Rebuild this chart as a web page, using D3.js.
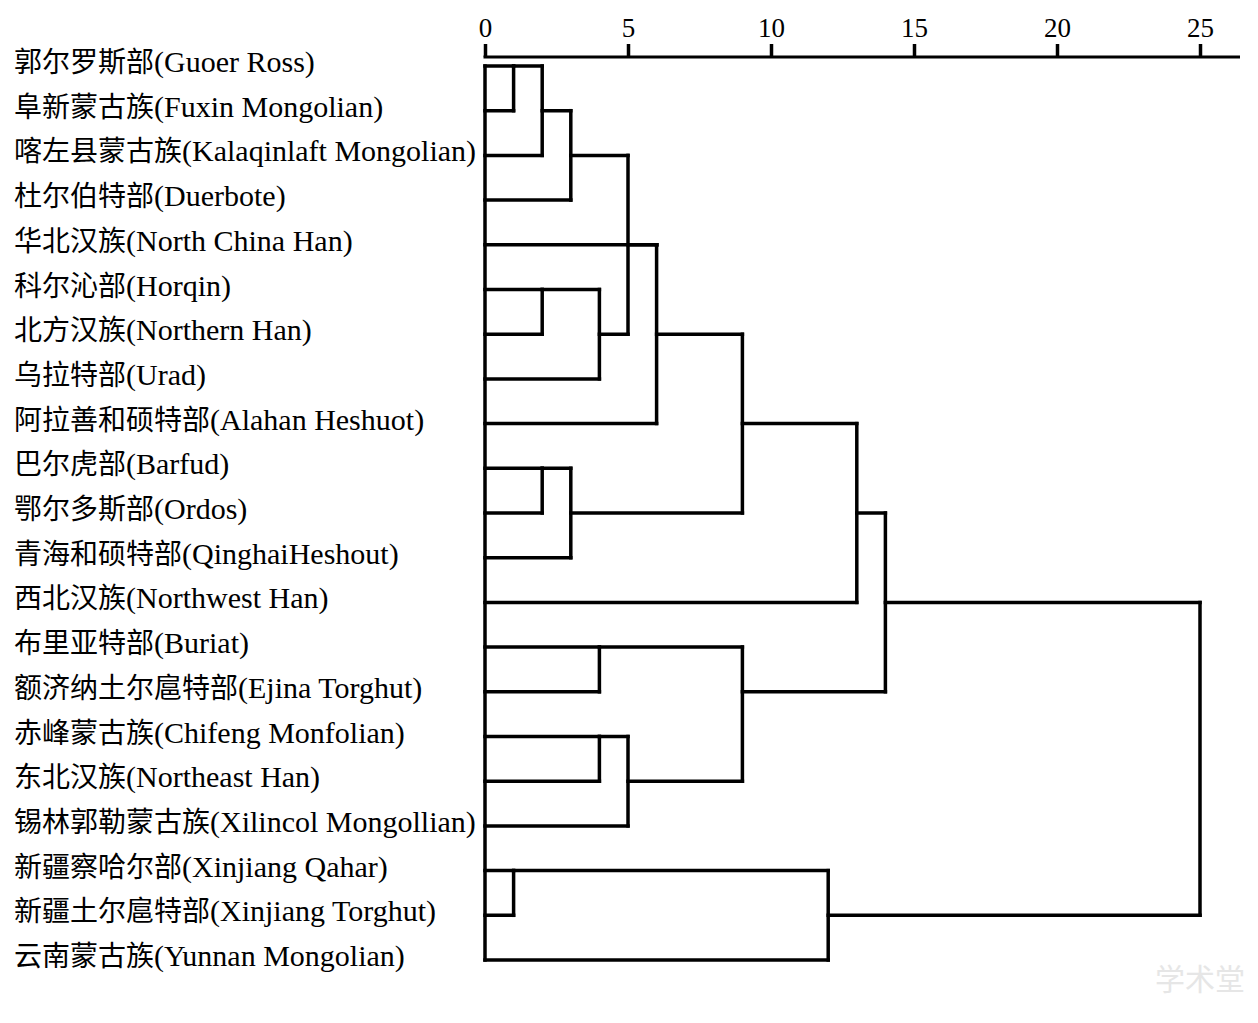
<!DOCTYPE html>
<html lang="zh">
<head>
<meta charset="utf-8">
<title>Dendrogram</title>
<script src="https://cdn.jsdelivr.net/npm/d3@7"></script>
<style>
  body { margin: 0; background: #fff; }
  .axis text { font-family: "Liberation Serif", "Times New Roman", serif; font-size: 27px; fill: #000; }
  .axis line { stroke: #000; stroke-width: 3.5px; }
  .link { stroke: #000; stroke-width: 3.5px; fill: none; stroke-linecap: square; }
  .lab { font-family: "Liberation Serif", serif; fill: #000; }
  .cn { font-family: "Noto Sans CJK SC", sans-serif; font-size: 28px; }
  .en { font-size: 30px; }
</style>
</head>
<body>
<script>
// leaf labels, top to bottom
var namesCn = ["郭尔罗斯部", "阜新蒙古族", "喀左县蒙古族", "杜尔伯特部", "华北汉族", "科尔沁部", "北方汉族",
  "乌拉特部", "阿拉善和硕特部", "巴尔虎部", "鄂尔多斯部", "青海和硕特部", "西北汉族", "布里亚特部",
  "额济纳土尔扈特部", "赤峰蒙古族", "东北汉族", "锡林郭勒蒙古族", "新疆察哈尔部", "新疆土尔扈特部", "云南蒙古族"];
var namesEn = ["(Guoer Ross)", "(Fuxin Mongolian)", "(Kalaqinlaft Mongolian)", "(Duerbote)", "(North China Han)",
  "(Horqin)", "(Northern Han)", "(Urad)", "(Alahan Heshuot)", "(Barfud)", "(Ordos)", "(QinghaiHeshout)",
  "(Northwest Han)", "(Buriat)", "(Ejina Torghut)", "(Chifeng Monfolian)", "(Northeast Han)",
  "(Xilincol Mongollian)", "(Xinjiang Qahar)", "(Xinjiang Torghut)", "(Yunnan Mongolian)"];

// merges: [child a, child b, rescaled distance]; ids 0-20 are leaves, 21+ are earlier merges
var merges = [
  [0, 1, 1],      // 21
  [21, 2, 2],     // 22
  [22, 3, 3],     // 23
  [5, 6, 2],      // 24
  [24, 7, 4],     // 25
  [23, 25, 5],    // 26
  [26, 4, 6],     // 27
  [27, 8, 6],     // 28
  [9, 10, 2],     // 29
  [29, 11, 3],    // 30
  [28, 30, 9],    // 31
  [31, 12, 13],   // 32
  [13, 14, 4],    // 33
  [15, 16, 4],    // 34
  [34, 17, 5],    // 35
  [33, 35, 9],    // 36
  [32, 36, 14],   // 37
  [18, 19, 1],    // 38
  [38, 20, 12],   // 39
  [37, 39, 25]    // 40
];
var tickVals = [0, 5, 10, 15, 20, 25];

var w = 1258, h = 1023;

var svg = d3.select("body").append("svg")
  .attr("width", w)
  .attr("height", h);

var x = d3.scaleLinear().domain([0, 25]).range([485, 1200]);
var y = d3.scalePoint().domain(d3.range(namesCn.length)).range([66, 960]);

// axis on top
var axis = d3.axisTop(x).tickValues(tickVals).tickSize(13).tickSizeOuter(0).tickPadding(7);
var gAxis = svg.append("g").attr("class", "axis")
  .attr("transform", "translate(0,57)")
  .call(axis);
gAxis.select(".domain").remove();
gAxis.append("line")
  .attr("x1", x(0) - 1.5).attr("x2", x.range()[1] + 40)
  .attr("y1", 0).attr("y2", 0)
  .style("stroke-width", "3px");

// node row and height for every id
var row = d3.range(namesCn.length), hgt = namesCn.map(function() { return 0; });
var segs = [];
merges.forEach(function(m) {
  var a = m[0], b = m[1], d = m[2];
  var ra = row[a], rb = row[b];
  segs.push([hgt[a], d, ra, ra]);
  segs.push([hgt[b], d, rb, rb]);
  segs.push([d, d, Math.min(ra, rb), Math.max(ra, rb)]);
  row.push(Math.floor((ra + rb) / 2));
  hgt.push(d);
});
// left baseline
segs.push([0, 0, 0, namesCn.length - 1]);

svg.selectAll(".link").data(segs).enter().append("line")
  .attr("class", "link")
  .attr("x1", function(s) { return x(s[0]); })
  .attr("x2", function(s) { return x(s[1]); })
  .attr("y1", function(s) { return y(s[2]); })
  .attr("y2", function(s) { return y(s[3]); });

// leaf labels
var lab = svg.selectAll(".lab").data(namesCn).enter().append("text")
  .attr("class", "lab")
  .attr("x", 14)
  .attr("y", function(d, i) { return y(i) + 6; });
lab.append("tspan").attr("class", "cn").text(function(d) { return d; });
lab.append("tspan").attr("class", "en").text(function(d, i) { return namesEn[i]; });

// watermark
svg.append("text")
  .attr("x", 1245).attr("y", 990)
  .attr("text-anchor", "end")
  .attr("font-family", "Noto Sans CJK SC")
  .attr("font-size", "30px")
  .attr("fill", "#e6e6e6")
  .text("学术堂");
</script>
</body>
</html>
